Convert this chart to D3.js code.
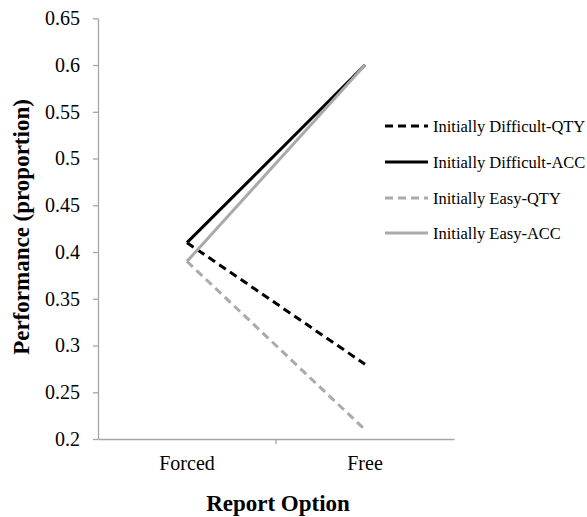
<!DOCTYPE html>
<html><head><meta charset="utf-8">
<script src="https://cdn.jsdelivr.net/npm/d3@7"></script>
<style>body{margin:0;background:#fff}svg{display:block}svg text{font-family:"Liberation Serif","Times New Roman",serif !important}</style>
</head><body>
<svg id="c" width="587" height="517"></svg>
<script>
const categories = ["Forced", "Free"];
const seriesNames = ["Initially Difficult-QTY", "Initially Difficult-ACC", "Initially Easy-QTY", "Initially Easy-ACC"];
const diffQTY = [0.41, 0.28];
const diffACC = [0.41, 0.60];
const easyQTY = [0.39, 0.21];
const easyACC = [0.39, 0.60];
const yTicks = [0.2, 0.25, 0.3, 0.35, 0.4, 0.45, 0.5, 0.55, 0.6, 0.65];

const series = [
  {name: seriesNames[0], values: diffQTY, color: "#000", dash: "8,5"},
  {name: seriesNames[1], values: diffACC, color: "#000", dash: null},
  {name: seriesNames[2], values: easyQTY, color: "#aaaaaa", dash: "8,5"},
  {name: seriesNames[3], values: easyACC, color: "#aaaaaa", dash: null}
];

const FONT = '"Liberation Serif", "Times New Roman", serif';
const svg = d3.select("#c");
const mLeft = 98, mRight = 454, mTop = 18.3, mBottom = 439;
const x = d3.scaleBand().domain(categories).range([mLeft, mRight]);
const y = d3.scaleLinear().domain([0.2, 0.65]).range([mBottom, mTop]);
const axisColor = "#a6a6a6";

// y axis
const ya = svg.append("g").attr("transform", `translate(${mLeft},0)`)
  .call(d3.axisLeft(y).tickValues(yTicks).tickSize(5).tickSizeOuter(0).tickFormat(d => String(+d.toFixed(2))));
ya.attr("font-family", FONT);
ya.select(".domain").attr("stroke", axisColor).attr("stroke-width", 1.3);
ya.selectAll(".tick line").attr("stroke", axisColor).attr("stroke-width", 1.3);
ya.selectAll(".tick text").attr("font-size", 20).attr("fill", "#000").attr("x", -18).style("font-family", FONT);

// x axis
const xa = svg.append("g").attr("transform", `translate(0,${mBottom})`)
  .call(d3.axisBottom(x).tickSize(0).tickSizeOuter(0));
xa.attr("font-family", FONT);
xa.select(".domain").attr("stroke", axisColor).attr("stroke-width", 1.3);
xa.selectAll(".tick text").attr("font-size", 20).attr("fill", "#000").attr("y", 24).attr("dy", "0.35em").style("font-family", FONT);
xa.selectAll(".bt").data(categories.slice(1)).enter().append("line")
  .attr("x1", d => x(d)).attr("x2", d => x(d)).attr("y1", 0).attr("y2", 5)
  .attr("stroke", axisColor).attr("stroke-width", 1.3);

// lines
const line = d3.line().x((d, i) => x(categories[i]) + x.bandwidth() / 2).y(d => y(d));
series.forEach(s => {
  svg.append("path").attr("d", line(s.values)).attr("fill", "none")
    .attr("stroke", s.color).attr("stroke-width", 3)
    .attr("stroke-dasharray", s.dash);
});

// legend
const leg = svg.append("g");
const legY = [126, 162, 198, 233];
series.forEach((s, i) => {
  leg.append("line").attr("x1", 385).attr("x2", 428).attr("y1", legY[i]).attr("y2", legY[i])
    .attr("stroke", s.color).attr("stroke-width", 3).attr("stroke-dasharray", s.dash);
  leg.append("text").attr("x", 433).attr("y", legY[i]).attr("dy", "0.35em")
    .attr("font-size", 16.5).style("font-family", FONT).text(s.name);
});

// titles
svg.append("text").attr("transform", "translate(29,227) rotate(-90)").attr("text-anchor", "middle")
  .attr("font-size", 23).attr("font-weight", "bold").style("font-family", FONT).text("Performance (proportion)");
svg.append("text").attr("x", 278).attr("y", 511).attr("text-anchor", "middle")
  .attr("font-size", 23).attr("font-weight", "bold").style("font-family", FONT).text("Report Option");
</script>
</body></html>
